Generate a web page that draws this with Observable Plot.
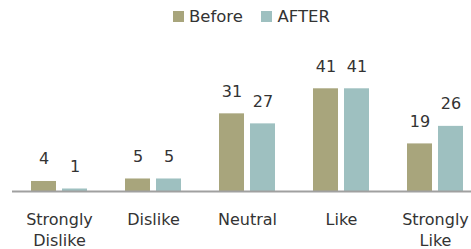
<!DOCTYPE html>
<html>
<head>
<meta charset="utf-8">
<script src="https://cdn.jsdelivr.net/npm/d3@7"></script>
<script src="https://cdn.jsdelivr.net/npm/@observablehq/plot@0.6"></script>
<style>
  html, body { margin: 0; padding: 0; background: #fff; overflow: hidden; }
  #wrap { position: relative; width: 471px; height: 249px; }
  #legend { position: absolute; left: 173px; top: 0px; }
  #chart { position: absolute; left: 0; top: 0; }
</style>
</head>
<body>
<div id="wrap"><div id="chart"></div><div id="legend"></div></div>
<script>
const categories = ["Strongly Dislike", "Dislike", "Neutral", "Like", "Strongly Like"];
const tickLabels = ["Strongly\nDislike", "Dislike", "Neutral", "Like", "Strongly\nLike"];
const seriesNames = ["Before", "AFTER"];
const beforeValues = [4, 5, 31, 41, 19];
const afterValues = [1, 5, 27, 41, 26];
const seriesColors = ["#a8a57c", "#9ec0c0"];

const data = categories.flatMap((c, i) => [
  {category: c, series: seriesNames[0], value: beforeValues[i]},
  {category: c, series: seriesNames[1], value: afterValues[i]}
]);

const font = "DejaVu Sans, sans-serif";

const chart = Plot.plot({
  width: 471,
  height: 249,
  marginTop: 65.75,
  marginBottom: 58,
  marginLeft: 0,
  marginRight: 0,
  style: {fontFamily: font, color: "#333", background: "transparent", overflow: "hidden"},
  fx: {domain: categories, range: [11.5, 481.5], padding: 0, label: null, axis: null},
  x: {domain: seriesNames, paddingInner: 0.194, paddingOuter: 0.613, axis: null},
  y: {domain: [0, 50], axis: null},
  color: {domain: seriesNames, range: seriesColors},
  marks: [
    Plot.barY(data, {fx: "category", x: "series", y: "value", fill: "series"}),
    Plot.ruleY([0], {stroke: "#a0a0a0", strokeWidth: 2}),
    Plot.text(data, {fx: "category", x: "series", y: "value", text: d => String(d.value),
      dy: -17, lineAnchor: "bottom", fontSize: 16, fill: "#333"}),
    Plot.axisFx({anchor: "bottom", tickSize: 0, tickPadding: 18, fontSize: 16, lineHeight: 1.35,
      tickFormat: d => tickLabels[categories.indexOf(d)], label: null})
  ]
});
document.getElementById("chart").appendChild(chart);

const legend = Plot.legend({
  color: {domain: seriesNames, range: seriesColors},
  legend: "swatches",
  swatchSize: 11,
  style: {fontFamily: font, fontSize: "16.5px", color: "#333", margin: "0"}
});
legend.querySelectorAll("svg").forEach(s => { s.style.marginRight = "5px"; });
Array.from(legend.children).forEach(ch => { if (ch.tagName !== "STYLE") ch.style.marginRight = "18.5px"; });
document.getElementById("legend").appendChild(legend);
</script>
</body>
</html>
